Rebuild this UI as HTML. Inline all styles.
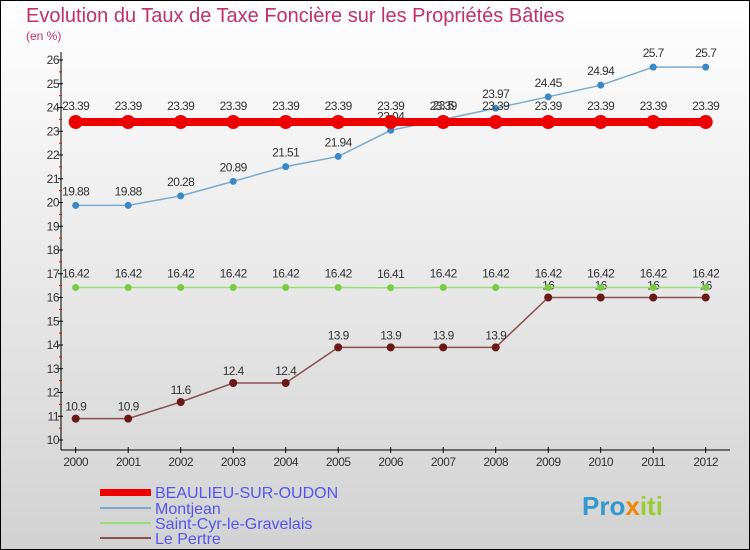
<!DOCTYPE html>
<html><head><meta charset="utf-8"><style>
body{margin:0}
#c{width:750px;height:550px;position:relative;overflow:hidden}
svg text{font-family:"Liberation Sans",sans-serif}
</style></head><body>
<div id="c">
<svg id="s" width="750" height="550">
<defs><linearGradient id="bg" x1="0" y1="0" x2="0" y2="1"><stop offset="0" stop-color="#ffffff"/><stop offset="1" stop-color="#d2d2d2"/></linearGradient></defs>
<rect x="0.5" y="0.5" width="749" height="549" fill="url(#bg)" stroke="#000"/>
<text x="26" y="22" font-size="20" fill="#c0306a">Evolution du Taux de Taxe Foncière sur les Propriétés Bâties</text>
<text x="26" y="40" font-size="12" fill="#c0306a">(en %)</text>
<g id="axes"></g><g id="series"></g>
<g>
<rect x="100" y="489" width="51" height="7" fill="#e00"/>
<text x="155" y="498" font-size="16" fill="#5555ee">BEAULIEU-SUR-OUDON</text>
<line x1="100" y1="508" x2="151" y2="508" stroke="#7aaad0" stroke-width="2"/>
<text x="155" y="514" font-size="16" fill="#5555ee">Montjean</text>
<line x1="100" y1="523" x2="151" y2="523" stroke="#99dd77" stroke-width="2"/>
<text x="155" y="529" font-size="16" fill="#5555ee">Saint-Cyr-le-Gravelais</text>
<line x1="100" y1="538" x2="151" y2="538" stroke="#8a5050" stroke-width="2"/>
<text x="155" y="544" font-size="16" fill="#5555ee">Le Pertre</text>
</g>
<g><text x="582" y="515" font-size="26" font-weight="bold" fill="#3399cc">Pro<tspan fill="#ee8800">x</tspan><tspan fill="#99cc33">iti</tspan></text></g>
</svg></div>
<script>
const years=[2000,2001,2002,2003,2004,2005,2006,2007,2008,2009,2010,2011,2012];
const yTicks=[10,11,12,13,14,15,16,17,18,19,20,21,22,23,24,25,26];
const beaulieu=[23.39,23.39,23.39,23.39,23.39,23.39,23.39,23.39,23.39,23.39,23.39,23.39,23.39];
const montjean=[19.88,19.88,20.28,20.89,21.51,21.94,23.04,23.5,23.97,24.45,24.94,25.7,25.7];
const saintCyr=[16.42,16.42,16.42,16.42,16.42,16.42,16.41,16.42,16.42,16.42,16.42,16.42,16.42];
const lePertre=[10.9,10.9,11.6,12.4,12.4,13.9,13.9,13.9,13.9,16,16,16,16];
const NS="http://www.w3.org/2000/svg";
const X=i=>75.7+i*52.5, Y=v=>440-(v-10)*23.75;
function mk(t,a,p){const e=document.createElementNS(NS,t);for(const k in a)e.setAttribute(k,a[k]);p.appendChild(e);return e;}
const ax=document.getElementById('axes'), sg=document.getElementById('series');
let l=mk('line',{x1:61,y1:52,x2:61,y2:450,stroke:'#000'},ax);


l=mk('line',{x1:61,y1:450,x2:730,y2:450,stroke:'#000'},ax);


yTicks.forEach(v=>{
 mk('line',{x1:58,y1:Y(v),x2:63,y2:Y(v),stroke:'#000'},ax);
 if(v<26) mk('line',{x1:59,y1:Y(v+0.5),x2:62,y2:Y(v+0.5),stroke:'#e00'},ax);
 const t=mk('text',{x:59,y:Y(v)+4,'font-size':12,'text-anchor':'end',fill:'#333','letter-spacing':'-0.5'},ax);
 t.textContent=v;
 
 
});
years.forEach((y,i)=>{
 mk('line',{x1:X(i),y1:447,x2:X(i),y2:453,stroke:'#000'},ax);
 const t=mk('text',{x:X(i),y:466,'font-size':12,'text-anchor':'middle',fill:'#333','letter-spacing':'-0.5'},ax);
 t.textContent=y;
 
 
});
function series(d,color,w,r,dot,name,lblOff){
 const g=mk('g',{},sg);
 
 
 const p=mk('polyline',{points:d.map((v,i)=>X(i)+','+Y(v)).join(' '),fill:'none',stroke:color,'stroke-width':w},g);
 
 
 d.forEach((v,i)=>{
  const c=mk('circle',{cx:X(i),cy:Y(v),r:r,fill:dot},g);
  
  
  const t=mk('text',{x:X(i),y:Y(v)+lblOff,'font-size':12,'text-anchor':'middle',fill:'#333','letter-spacing':'-0.6'},g);
  t.textContent=String(v);
  
  
 });
}
series(lePertre,'#8a5050',1.5,4,'#6a1818','le-pertre',-8);
series(saintCyr,'#99dd77',1.5,3.5,'#77cc44','saint-cyr',-10);
series(montjean,'#7aaad0',1.5,3.5,'#3a88c8','montjean',-10);
series(beaulieu,'#e00',8,7,'#e00','beaulieu',-12);
</script>
</body></html>
